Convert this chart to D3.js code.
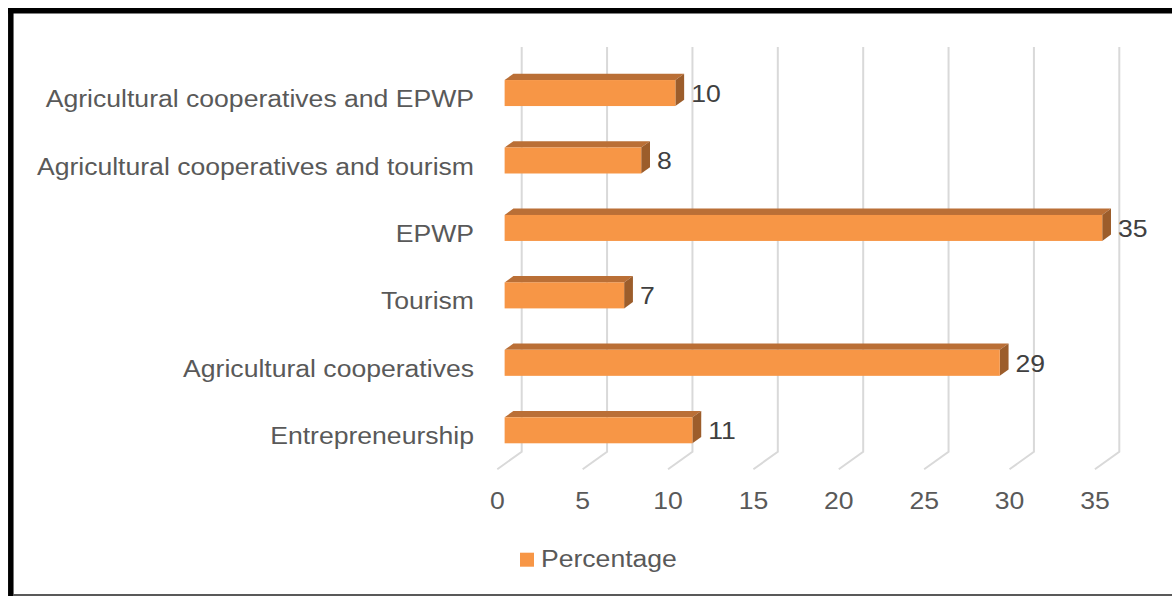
<!DOCTYPE html>
<html>
<head>
<meta charset="utf-8">
<script src="https://cdn.jsdelivr.net/npm/d3@7"></script>
<style>
  html, body { margin: 0; padding: 0; background: #fff; }
  svg { display: block; }
  text { font-family: "Liberation Sans", Arial, sans-serif; }
</style>
</head>
<body>
<svg id="chart" width="1172" height="596"></svg>
<script>
// Data
const categories = [
  "Agricultural cooperatives and EPWP",
  "Agricultural cooperatives and tourism",
  "EPWP",
  "Tourism",
  "Agricultural cooperatives",
  "Entrepreneurship"
];
const percentage = [10, 8, 35, 7, 29, 11];
const xTicks = [0, 5, 10, 15, 20, 25, 30, 35];
const seriesName = "Percentage";

const svg = d3.select("#chart");
const W = 1172, H = 596;

// Text is drawn slightly widened horizontally
const stretch = 1.085;
const place = (px, py) => `translate(${px},${py}) scale(${stretch},1)`;

// Back-wall scales of the 3-D plot
const x = d3.scaleLinear().domain([0, 35]).range([521.7, 1119.3]);
const y = d3.scaleBand().domain(categories).range([47, 451.7]).padding(0);

// Oblique depth vector (back wall -> front of floor)
const depth = [-24.4, 17.6];
const fFront = 0.70, fBack = 0.34;
const barH = 26;

const gridColor = "#D9D9D9";
const labelColor = "#595959";
const fontSize = 24.5;

// Gridlines: vertical on the back wall, then diagonal across the floor
const grid = svg.append("g");
xTicks.forEach(t => {
  const gx = x(t);
  grid.append("path")
    .attr("d", `M${gx},${y.range()[0]} L${gx},${y.range()[1]} L${gx + depth[0]},${y.range()[1] + depth[1]}`)
    .attr("fill", "none")
    .attr("stroke", gridColor)
    .attr("stroke-width", 2);
});

// Tick labels at the front edge of the floor
svg.append("g").selectAll("text")
  .data(xTicks)
  .join("text")
  .attr("transform", d => place(x(d) + depth[0], 509))
  .attr("text-anchor", "middle")
  .attr("font-size", fontSize)
  .attr("fill", labelColor)
  .text(d => d);

// Category labels
svg.append("g").selectAll("text")
  .data(categories)
  .join("text")
  .attr("transform", d => place(474, y(d) + y.bandwidth() / 2 + depth[1]))
  .attr("dy", "0.36em")
  .attr("text-anchor", "end")
  .attr("font-size", fontSize)
  .attr("fill", labelColor)
  .text(d => d);

// 3-D bars
const dxTop = (fBack - fFront) * depth[0];
const dyTop = (fBack - fFront) * depth[1];
const bars = svg.append("g");
categories.forEach((c, i) => {
  const v = percentage[i];
  const x0 = x(0) + fFront * depth[0];
  const x1 = x(v) + fFront * depth[0];
  const cy = y(c) + y.bandwidth() / 2 + fFront * depth[1];
  const y0 = cy - barH / 2, y1 = cy + barH / 2;
  // top face
  bars.append("path")
    .attr("d", `M${x0},${y0} L${x0 + dxTop},${y0 + dyTop} L${x1 + dxTop},${y0 + dyTop} L${x1},${y0} Z`)
    .attr("fill", "#BA6F36");
  // side face
  bars.append("path")
    .attr("d", `M${x1},${y0} L${x1 + dxTop},${y0 + dyTop} L${x1 + dxTop},${y1 + dyTop} L${x1},${y1} Z`)
    .attr("fill", "#9C5D2B");
  // front face
  bars.append("rect")
    .attr("x", x0).attr("y", y0)
    .attr("width", x1 - x0).attr("height", barH)
    .attr("fill", "#F79646");
  // value label
  bars.append("text")
    .attr("transform", place(x1 + dxTop + 7, cy))
    .attr("dy", "0.36em")
    .attr("font-size", fontSize)
    .attr("fill", "#404040")
    .text(v);
});

// Legend
const legend = svg.append("g");
legend.append("rect")
  .attr("x", 520).attr("y", 552.7)
  .attr("width", 14).attr("height", 14)
  .attr("fill", "#F79646");
legend.append("text")
  .attr("transform", place(541, 567))
  .attr("font-size", fontSize)
  .attr("fill", labelColor)
  .text(seriesName);

// Frame
svg.append("line").attr("x1", 8).attr("x2", W).attr("y1", 10.8).attr("y2", 10.8)
  .attr("stroke", "#000").attr("stroke-width", 5.5);
svg.append("line").attr("x1", 10.8).attr("x2", 10.8).attr("y1", 8).attr("y2", H)
  .attr("stroke", "#000").attr("stroke-width", 5.5);
svg.append("line").attr("x1", 13).attr("x2", W).attr("y1", 595).attr("y2", 595)
  .attr("stroke", "#595959").attr("stroke-width", 2);
</script>
</body>
</html>
